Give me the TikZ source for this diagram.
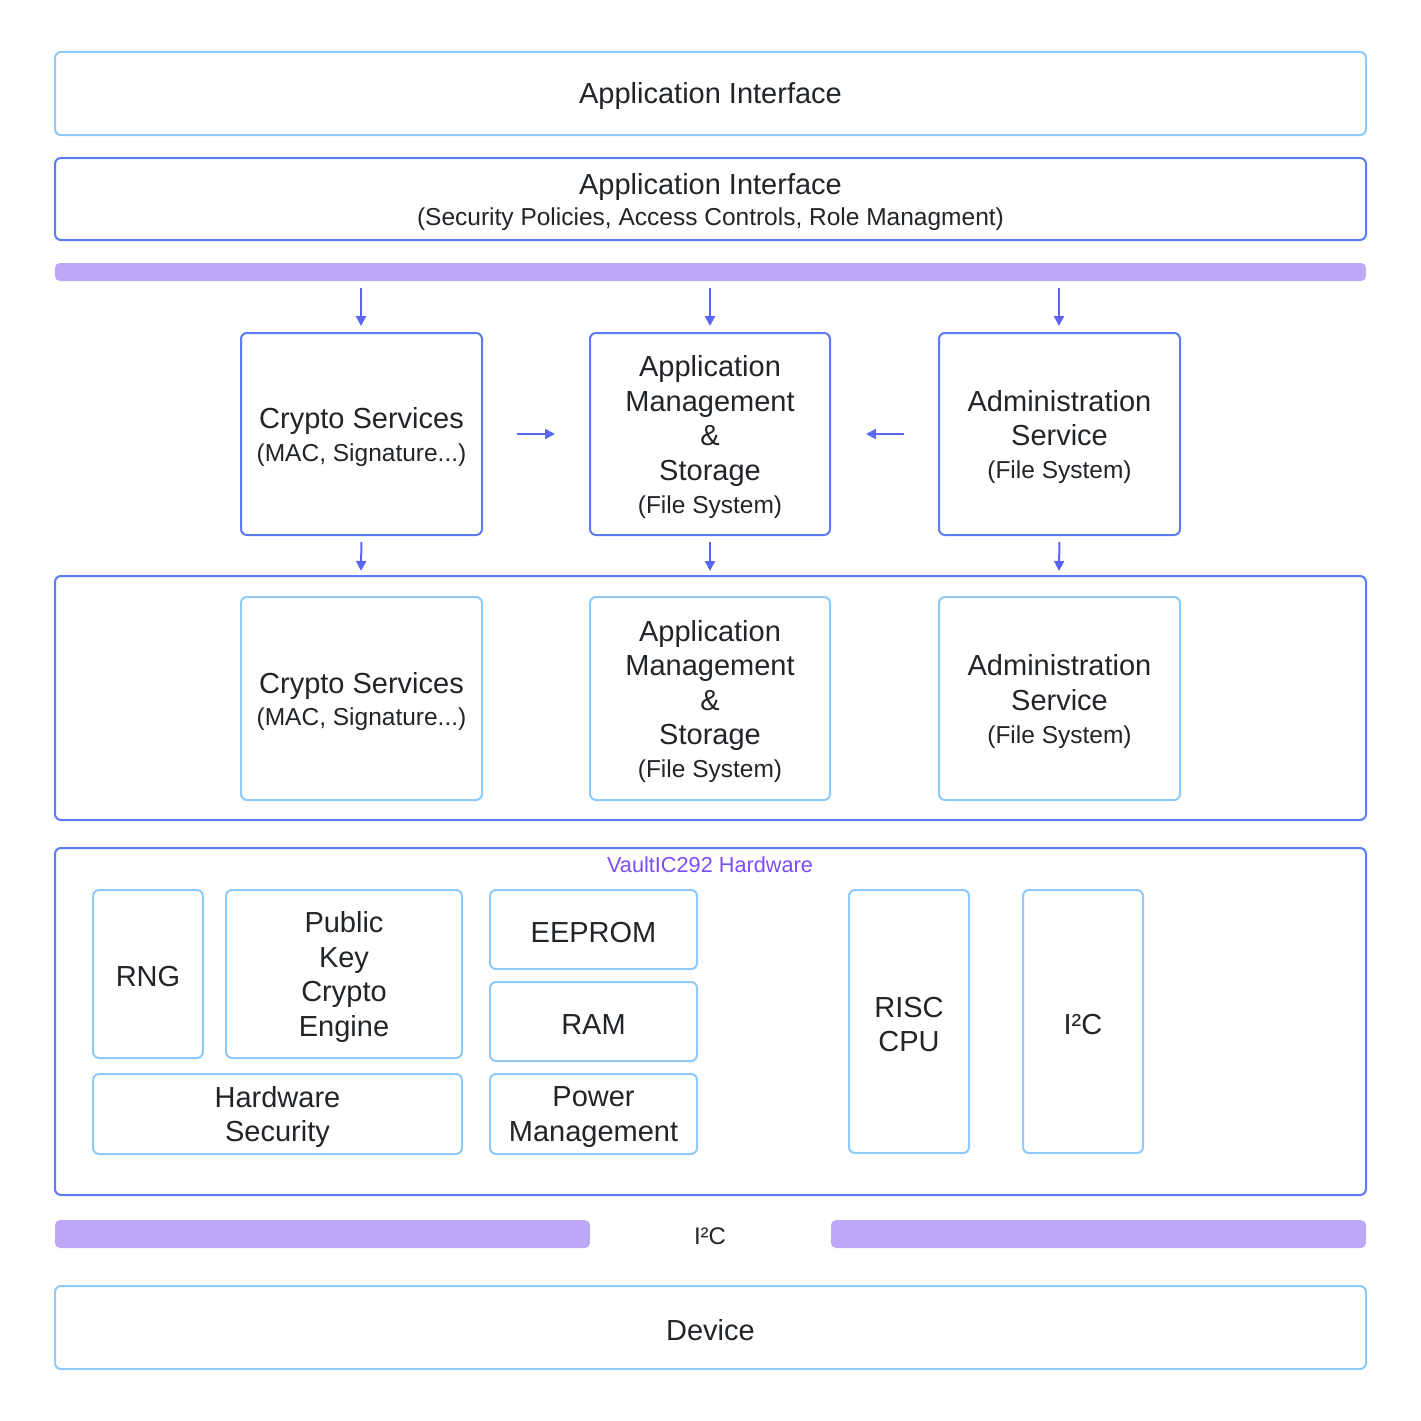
\documentclass[tikz,border=0pt]{standalone}
\usepackage{fontspec}
\setmainfont{Liberation Sans}
\usetikzlibrary{arrows.meta}
\definecolor{lightB}{HTML}{90CAF9}
\definecolor{blueB}{HTML}{5C7CF6}
\definecolor{barC}{HTML}{BDA8F7}
\definecolor{arrC}{HTML}{5A66F2}
\definecolor{txt}{HTML}{212529}
\definecolor{vlt}{HTML}{7C4DFF}
\newcommand\fA{\fontsize{29}{34.5}\selectfont}
\newcommand\fB{\fontsize{24.5}{29}\selectfont}
\newcommand\fC{\fontsize{21.7}{25}\selectfont}
\newcommand\bx[7]{\node[#1, minimum width={(#5-#3)*1pt}, minimum height={(#6-#4)*1pt}, label={[txtl]center:#7}] (#2) at ({(#3+#5)/2},{(#4+#6)/2}) {};}
\tikzset{
  txtl/.style={align=center, text=txt, font=\fA, inner sep=0pt, yshift=-3pt},
  boxbase/.style={draw, line width=2pt, rounded corners=6pt, fill=white, inner sep=0pt},
  lbox/.style={boxbase, draw=lightB},
  bbox/.style={boxbase, draw=blueB},
  barbox/.style={fill=barC, draw=none, rounded corners=5pt, inner sep=0pt},
  arr/.style={draw=arrC, line width=2pt, -{Triangle[width=10pt,length=10pt]}},
}
\begin{document}
\begin{tikzpicture}[x=1pt,y=-1pt]
\useasboundingbox[fill=white] (0,0) rectangle (1421,1421);
% top boxes
\bx{lbox}{ai}{55}{52}{1366}{135}{Application Interface}
\bx{bbox}{ai2}{55}{158}{1366}{240}{Application Interface\\[-4pt]{\fB (Security Policies, Access Controls, Role Managment)}}
\bx{barbox}{bar1}{55}{263}{1366}{281}{}
% top arrows coordinates
\coordinate (t1) at (361,288); \coordinate (e1) at (361,326);
\coordinate (t2) at (710,288); \coordinate (e2) at (710,326);
\coordinate (t3) at (1059,288); \coordinate (e3) at (1059,326);
% service row
\bx{bbox}{cs}{241}{333}{482}{535}{Crypto Services\\[-2pt]{\fB (MAC, Signature...)}}
\bx{bbox}{am}{590}{333}{830}{535}{Application\\Management\\\&\\Storage\\[-1.5pt]{\fB (File System)}}
\bx{bbox}{ad}{939}{333}{1180}{535}{Administration\\Service\\[-1.5pt]{\fB (File System)}}
\draw[arr] (t1) -- (e1);
\draw[arr] (t2) -- (e2);
\draw[arr] (t3) -- (e3);
\coordinate (h1a) at (517,434); \coordinate (h1b) at (555,434);
\coordinate (h2a) at (904,434); \coordinate (h2b) at (866,434);
\draw[arr] (h1a) -- (h1b);
\draw[arr] (h2a) -- (h2b);
% big box
\bx{bbox}{big}{55}{576}{1366}{820}{}
\coordinate (b1) at (361,571);
\coordinate (b2) at (710,571);
\coordinate (b3) at (1059,571);
\draw[arr, shorten <=6pt] (cs.south) -- (b1);
\draw[arr, shorten <=6pt] (am.south) -- (b2);
\draw[arr, shorten <=6pt] (ad.south) -- (b3);
\bx{lbox}{cs2}{241}{597}{482}{800}{Crypto Services\\[-2pt]{\fB (MAC, Signature...)}}
\bx{lbox}{am2}{590}{597}{830}{800}{Application\\Management\\\&\\Storage\\[-1.5pt]{\fB (File System)}}
\bx{lbox}{ad2}{939}{597}{1180}{800}{Administration\\Service\\[-1.5pt]{\fB (File System)}}
% hardware
\bx{bbox}{hw}{55}{848}{1366}{1195}{}
\node[font=\fC, text=vlt, inner sep=0pt] (hwl) at (710,865) {VaultIC292 Hardware};
\bx{lbox}{rng}{93}{890}{203}{1058}{RNG}
\bx{lbox}{pk}{226}{890}{462}{1058}{Public\\Key\\Crypto\\Engine}
\bx{lbox}{ee}{490}{890}{697}{969}{EEPROM}
\bx{lbox}{ram}{490}{982}{697}{1061}{RAM}
\bx{lbox}{hs}{93}{1074}{462}{1154}{Hardware\\Security}
\bx{lbox}{pm}{490}{1074}{697}{1154}{Power\\Management}
\bx{lbox}{risc}{849}{890}{969}{1153}{RISC\\CPU}
\bx{lbox}{i2c}{1023}{890}{1143}{1153}{I²C}
% bottom bus
\bx{barbox}{bar2}{55}{1220}{590}{1248}{}
\bx{barbox}{bar3}{831}{1220}{1366}{1248}{}
\node[font=\fontsize{24}{28}\selectfont, text=txt, inner sep=0pt] (i2cl) at (710,1236) {I²C};
\bx{lbox}{dev}{55}{1286}{1366}{1369}{Device}
\end{tikzpicture}
\end{document}
